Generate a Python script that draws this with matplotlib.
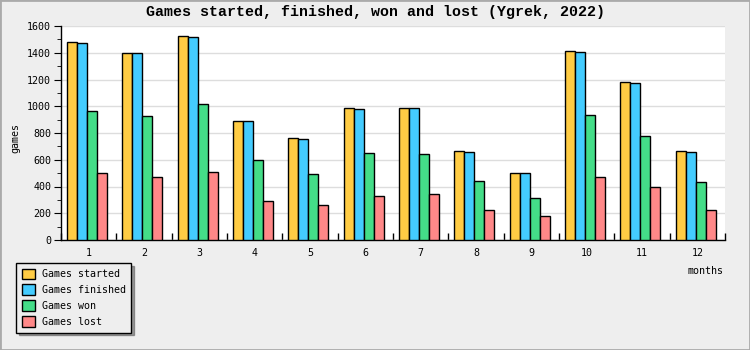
import numpy as np
import matplotlib
matplotlib.use("Agg")
import matplotlib.pyplot as plt
from matplotlib.patches import Rectangle

# data
months = [1, 2, 3, 4, 5, 6, 7, 8, 9, 10, 11, 12]
started = [1478, 1396, 1523, 887, 760, 985, 985, 663, 499, 1411, 1179, 663]
finished = [1471, 1396, 1515, 887, 753, 977, 985, 656, 499, 1403, 1172, 656]
won = [962, 925, 1014, 596, 491, 648, 641, 439, 312, 932, 775, 431]
lost = [498, 469, 506, 289, 259, 327, 342, 222, 177, 469, 394, 222]

series = [("Games started", started, "#FFCC44"),
          ("Games finished", finished, "#44CCFF"),
          ("Games won", won, "#44DD88"),
          ("Games lost", lost, "#FF8888")]

plt.rcParams["font.family"] = ["DejaVu Sans Mono"]
plt.rcParams["font.size"] = 7.2

fig = plt.figure(figsize=(7.5, 3.5), dpi=100, facecolor="#EEEEEE")
fig.patches.append(Rectangle((0, 0), 1, 1, transform=fig.transFigure, fill=False,
                             edgecolor="#AAAAAA", linewidth=2))
ax = fig.add_axes([61 / 750, 110 / 350, 664 / 750, 214 / 350])
ax.set_facecolor("white")

x = np.array(months)
w = 0.181
for i, (name, vals, col) in enumerate(series):
    ax.bar(x + (i - 1.5) * w - 0.03, vals, width=w, color=col, edgecolor="black",
           linewidth=1, label=name, zorder=3)

ax.set_xlim(0.5, 12.5)
ax.set_ylim(0, 1600)
ax.set_yticks(range(0, 1601, 200))
ax.set_yticks(range(0, 1601, 100), minor=True)
ax.grid(axis="y", color="#DDDDDD", linewidth=1, zorder=0)
ax.set_xticks(months)
ax.set_xticks(np.arange(0.5, 12.6, 1), minor=True)
ax.tick_params(axis="x", which="major", length=0, pad=6, labelsize=7.2)
ax.tick_params(axis="x", which="minor", direction="in", length=5, width=1)
ax.tick_params(axis="y", which="major", direction="out", length=5, labelsize=7.2, pad=2)
ax.tick_params(axis="y", which="minor", direction="out", length=3)
for s in ["top", "right"]:
    ax.spines[s].set_visible(False)
for s in ["left", "bottom"]:
    ax.spines[s].set_linewidth(1)

fig.text(375 / 750, 1 - 12 / 350, "Games started, finished, won and lost (Ygrek, 2022)",
         family="Liberation Mono", ha="center", va="center", fontsize=10.8,
         fontweight="bold")
fig.text(15 / 750, 1 - 138 / 350, "games", rotation=90, ha="center", va="center")
fig.text(706 / 750, 1 - 271 / 350, "months", ha="center", va="center")

leg = fig.legend(loc="upper left", bbox_to_anchor=(16 / 750, 1 - 263 / 350),
                 frameon=True, fancybox=False, shadow=True, fontsize=7.2,
                 handlelength=1.3, handleheight=1.3, handletextpad=0.7,
                 labelspacing=0.5, borderpad=0.55, borderaxespad=0)
leg.get_frame().set_edgecolor("black")
leg.get_frame().set_facecolor("#EEEEEE")
leg.get_frame().set_linewidth(1)

fig.savefig("out.png", dpi=100, facecolor=fig.get_facecolor())
